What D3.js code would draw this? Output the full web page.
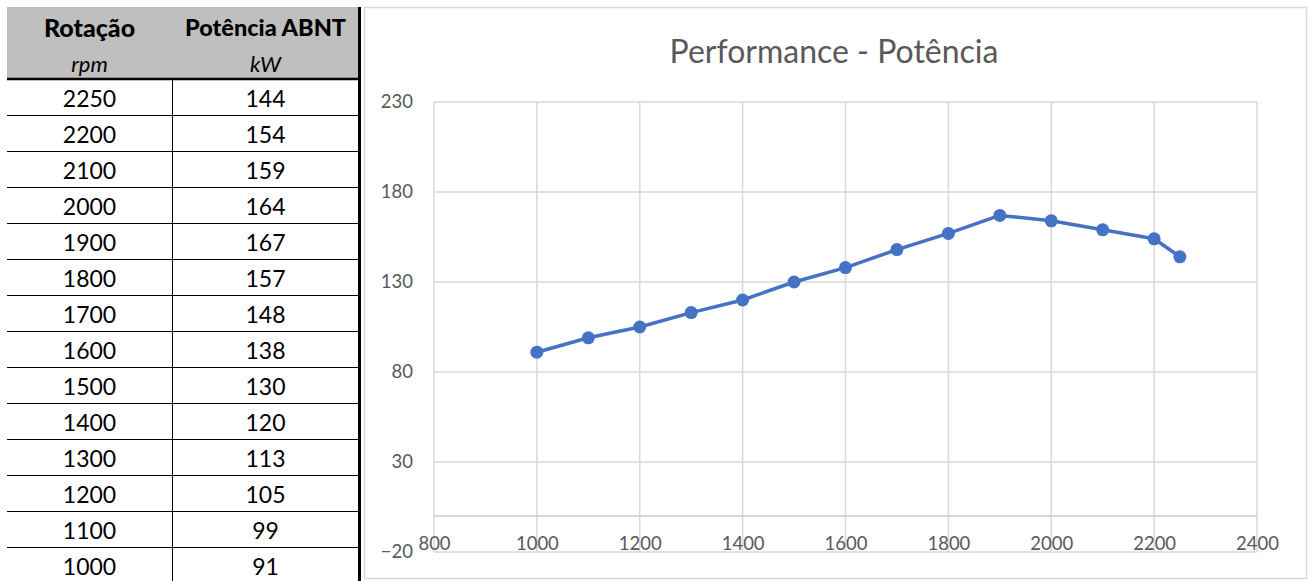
<!DOCTYPE html>
<html><head><meta charset="utf-8">
<script src="https://cdn.jsdelivr.net/npm/d3@7"></script>
<style>
body{margin:0;background:#fff;}
svg text{font-family:Lato,'Open Sans',sans-serif;}
</style>
</head><body>
<svg id="c" width="1311" height="581"></svg>
<script>
const rpm = [1000,1100,1200,1300,1400,1500,1600,1700,1800,1900,2000,2100,2200,2250];
const power = [91,99,105,113,120,130,138,148,157,167,164,159,154,144];
const xTicks = [800,1000,1200,1400,1600,1800,2000,2200,2400];
const yTicks = [-20,30,80,130,180,230];
const chartTitle = "Performance - Potência";
const tableHeaders = ["Rotação","Potência ABNT"];
const tableUnits = ["rpm","kW"];

const svg = d3.select("#c");

// ---------- Table ----------
const rows = rpm.map((r,i)=>({r, p: power[i]})).reverse();
const tx0 = 7, tx1 = 172, tx2 = 359;
const colCenters = [(tx0+tx1)/2, (tx1+tx2)/2];
const headTop = 7, headBottom = 79, rowH = 36;
const rowScale = d3.scaleBand().domain(d3.range(rows.length)).range([headBottom, headBottom + rowH*rows.length]).padding(0);

svg.append("rect").attr("x",tx0).attr("y",headTop).attr("width",tx2-tx0).attr("height",headBottom-headTop).attr("fill","#bfbfbf");

const tbl = svg.append("g");
const headSizes = [25, 23.5];
const unitSizes = [22, 22];
tableHeaders.forEach((h,i)=>{
  tbl.append("text").attr("x",colCenters[i]).attr("y",27).attr("text-anchor","middle").attr("dominant-baseline","central")
    .attr("font-weight","900").attr("font-size",headSizes[i]).attr("fill","#000").text(h);
  tbl.append("text").attr("x",colCenters[i]).attr("y",63).attr("text-anchor","middle").attr("dominant-baseline","central")
    .attr("font-style","italic").attr("font-size",unitSizes[i]).attr("fill","#000").text(tableUnits[i]);
});

rows.forEach((d,i)=>{
  const y0 = rowScale(i);
  tbl.append("line").attr("x1",tx0).attr("x2",tx2).attr("y1",y0+rowH+0.5).attr("y2",y0+rowH+0.5).attr("stroke","#000").attr("stroke-width",1);
  tbl.append("text").attr("x",colCenters[0]).attr("y",y0+rowH/2+1).attr("text-anchor","middle").attr("dominant-baseline","central")
    .attr("font-size",23).attr("fill","#000").text(d.r);
  tbl.append("text").attr("x",colCenters[1]).attr("y",y0+rowH/2+1).attr("text-anchor","middle").attr("dominant-baseline","central")
    .attr("font-size",23).attr("fill","#000").text(d.p);
});
tbl.append("line").attr("x1",tx0).attr("x2",tx2).attr("y1",headBottom).attr("y2",headBottom).attr("stroke","#000").attr("stroke-width",2.5);
tbl.append("line").attr("x1",tx1+0.5).attr("x2",tx1+0.5).attr("y1",headBottom).attr("y2",581).attr("stroke","#000").attr("stroke-width",1);
tbl.append("line").attr("x1",tx2+0.5).attr("x2",tx2+0.5).attr("y1",headTop).attr("y2",581).attr("stroke","#000").attr("stroke-width",3);

// ---------- Chart ----------
svg.append("rect").attr("x",364.5).attr("y",7.5).attr("width",942).attr("height",571).attr("fill","#fff").attr("stroke","#d9d9d9").attr("stroke-width",1.5);

const x = d3.scaleLinear().domain([800,2400]).range([434,1257]);
const y = d3.scaleLinear().domain([-20,230]).range([552,102]);

svg.append("text").attr("x",834).attr("y",50).attr("text-anchor","middle").attr("dominant-baseline","central")
  .attr("font-size",32).attr("fill","#595959").text(chartTitle);

const grid = svg.append("g");
grid.selectAll("line.h").data(yTicks).join("line").attr("class","h")
  .attr("x1",x(800)).attr("x2",x(2400)).attr("y1",d=>y(d)).attr("y2",d=>y(d))
  .attr("stroke","#d9d9d9").attr("stroke-width",1.5);
grid.selectAll("line.v").data(xTicks).join("line").attr("class","v")
  .attr("x1",d=>x(d)).attr("x2",d=>x(d)).attr("y1",y(230)).attr("y2",y(-20))
  .attr("stroke","#d9d9d9").attr("stroke-width",1.5);
grid.append("line").attr("x1",x(800)).attr("x2",x(2400)).attr("y1",y(0)).attr("y2",y(0)).attr("stroke","#c8c8c8").attr("stroke-width",1.5);

const yAxis = d3.axisLeft(y).tickValues(yTicks).tickSize(0).tickPadding(0);
const gy = svg.append("g").attr("transform",`translate(413,0)`).call(yAxis);
gy.select(".domain").remove();
gy.selectAll("text").attr("font-size",18.5).attr("fill","#595959").attr("font-family","Lato,'Open Sans',sans-serif");

const xAxis = d3.axisBottom(x).tickValues(xTicks).tickSize(0).tickPadding(0).tickFormat(d3.format("d"));
const gx = svg.append("g").attr("transform",`translate(0,537)`).call(xAxis);
gx.select(".domain").remove();
gx.selectAll("text").attr("font-size",18.5).attr("fill","#595959").attr("font-family","Lato,'Open Sans',sans-serif");

const pts = rpm.map((r,i)=>({r,p:power[i]}));
svg.append("path").datum(pts).attr("fill","none").attr("stroke","#4472c4").attr("stroke-width",3.5).attr("stroke-linejoin","round")
  .attr("d", d3.line().x(d=>x(d.r)).y(d=>y(d.p)));
svg.selectAll("circle.m").data(pts).join("circle").attr("class","m")
  .attr("cx",d=>x(d.r)).attr("cy",d=>y(d.p)).attr("r",6.5).attr("fill","#4472c4");
</script>
</body></html>
